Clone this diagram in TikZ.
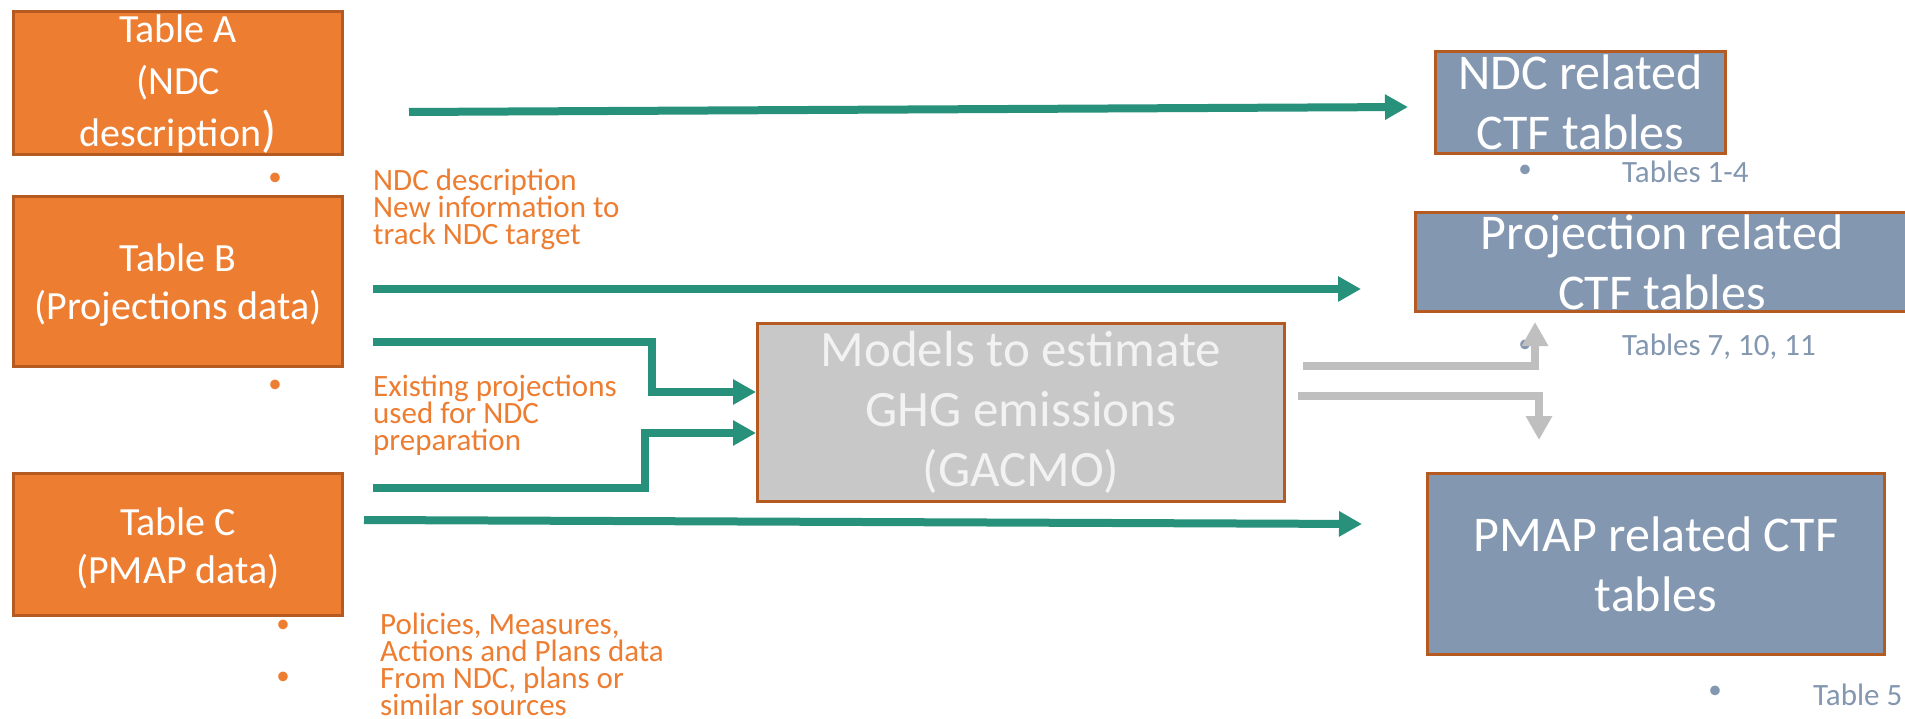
\documentclass[tikz,border=0pt]{standalone}
\usepackage{fontspec}
\setmainfont{Carlito}
\usetikzlibrary{arrows.meta}
\definecolor{orfill}{HTML}{ED7D31}
\definecolor{orline}{HTML}{B55B22}
\definecolor{bgfill}{HTML}{8497B0}
\definecolor{tealarrow}{HTML}{27917B}
\definecolor{grarrow}{HTML}{BFBFBF}
\definecolor{gfill}{HTML}{C8C8C8}
\definecolor{gtext}{HTML}{F2F2F2}
\tikzset{
  srcbox/.style={draw=orline, line width=3pt, fill=orfill, minimum width=329pt, inner sep=0pt},
  srctext/.style={text=white, align=center, inner sep=0pt, font=\fontsize{40}{48}\selectfont},
  outbox/.style={draw=orline, line width=3pt, fill=bgfill, text=white, align=center,
    inner sep=0pt, font=\fontsize{50}{60}\selectfont},
  modelbox/.style={draw=orline, line width=3pt, fill=gfill, text=gtext, align=center,
    inner sep=0pt, font=\fontsize{51}{60}\selectfont},
  flow/.style={draw=tealarrow, line width=8pt, -{Triangle[length=23pt,width=24pt]}},
  gflow/.style={draw=grarrow, line width=8pt, -{Triangle[length=24pt,width=25pt]}},
  note/.style={text=orfill, align=left, anchor=west, inner sep=0pt,
    font=\fontsize{31}{27}\selectfont},
  obul/.style={text=orfill, inner sep=0pt, font=\fontsize{27}{27}\selectfont},
  gnote/.style={text=bgfill, anchor=west, inner sep=0pt, font=\fontsize{31}{31}\selectfont},
  gbul/.style={text=bgfill, inner sep=0pt, font=\fontsize{27}{27}\selectfont}
}
\begin{document}
\begin{tikzpicture}[x=1pt,y=-1pt]
\useasboundingbox (0,0) rectangle (1905,719);
\fill[white] (0,0) rectangle (1905,719);

% source tables
\node[srcbox, minimum height=143pt] (ta) at (178,83) {};
\node[srctext, font=\fontsize{40}{52}\selectfont] (tat) at (178,84)
  {Table A\\(NDC\\description{\fontsize{50}{52}\selectfont)}};
\node[srcbox, minimum height=170pt] (tb) at (178,281.5) {};
\node[srctext] (tbt) at (178,285.5) {Table B\\(Projections data)};
\node[srcbox, minimum height=142pt] (tc) at (178,544.5) {};
\node[srctext] (tct) at (178,548.5) {Table C\\(PMAP data)};

% output tables
\node[outbox, minimum width=290pt, minimum height=102pt] (ndc) at (1580.5,102.5)
  {NDC related\\CTF tables};
\node[outbox, minimum width=493pt, minimum height=99pt] (proj) at (1662,262)
  {Projection related\\CTF tables};
\node[outbox, minimum width=457pt, minimum height=181pt] (pmap) at (1656,564)
  {PMAP related CTF\\tables};

% model
\node[modelbox, minimum width=527pt, minimum height=178pt] (gacmo) at (1021,412.5)
  {Models to estimate\\GHG emissions\\(GACMO)};

% orange notes
\node[obul] (b1) at (275,179) {•};
\node[note] (n1) at (373,209.5) {NDC description\\New information to\\track NDC target};
\node[obul] (b2) at (275,386) {•};
\node[note] (n2) at (373,415) {Existing projections\\used for NDC\\preparation};
\node[obul] (b3) at (283,626) {•};
\node[obul] (b4) at (283,678) {•};
\node[note] (n3) at (380,664.5) {Policies, Measures,\\Actions and Plans data\\From NDC, plans or\\similar sources};

% grey-blue notes
\node[gbul] (b5) at (1525,171) {•};
\node[gnote] (t14) at (1622,172) {Tables 1-4};
\node[gbul] (b6) at (1525,346) {•};
\node[gnote] (t71) at (1622,347) {Tables 7, 10, 11};
\node[gbul] (b7) at (1715,692) {•};
\node[gnote] (t5) at (1813,695) {Table 5};

% teal arrows
\coordinate (a0) at (409,112);
\coordinate (a1) at (1408,107);
\draw[flow] (a0) -- (a1);
\coordinate (bb0) at (373,289);
\coordinate (bb1) at (1361,289);
\draw[flow] (bb0) -- (bb1);
\coordinate (e1) at (373,342);
\coordinate (e1k) at (652,392);
\draw[flow] (e1) -| (e1k) -- (gacmo.west |- e1k);
\coordinate (e2) at (373,488);
\coordinate (e2k) at (645,433);
\draw[flow] (e2) -| (e2k) -- (gacmo.west |- e2k);
\coordinate (c0) at (364,520);
\coordinate (c1) at (1362,524);
\draw[flow] (c0) -- (c1);

% grey arrows
\coordinate (g1) at (1303,366);
\coordinate (g1t) at (1535,322);
\draw[gflow] (g1) -| (g1t);
\coordinate (g2) at (1298,396);
\coordinate (g2t) at (1539,440);
\draw[gflow] (g2) -| (g2t);
\end{tikzpicture}
\end{document}
